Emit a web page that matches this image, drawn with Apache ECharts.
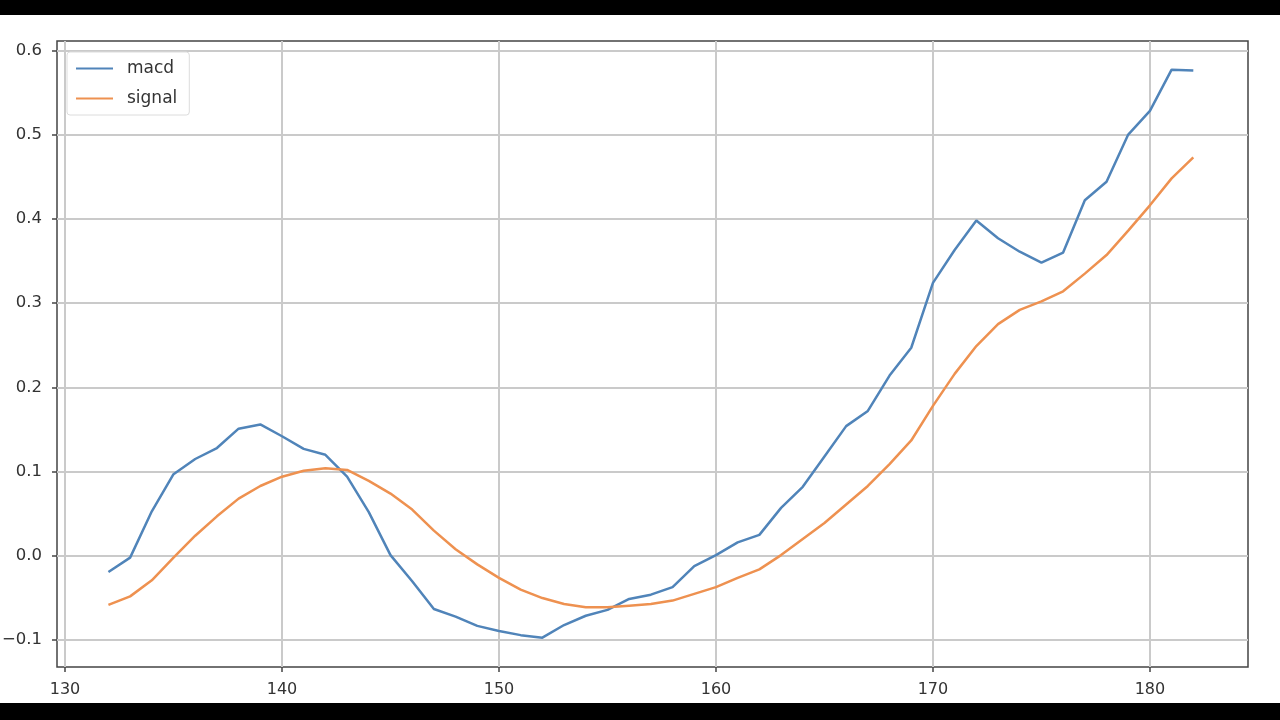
<!DOCTYPE html>
<html>
<head>
<meta charset="utf-8">
<script src="https://cdn.jsdelivr.net/npm/echarts@6/dist/echarts.min.js"></script>
<style>
  html, body { margin: 0; padding: 0; background: #000; }
  #chart { width: 1280px; height: 720px; }
</style>
</head>
<body>
<div id="chart"></div>
<script>
// x positions (bar index)
const xValues = [132, 133, 134, 135, 136, 137, 138, 139, 140, 141, 142, 143, 144, 145, 146, 147, 148, 149, 150, 151,
  152, 153, 154, 155, 156, 157, 158, 159, 160, 161, 162, 163, 164, 165, 166, 167, 168, 169, 170, 171,
  172, 173, 174, 175, 176, 177, 178, 179, 180, 181, 182]

const macd = [-0.019, -0.002, 0.053, 0.097, 0.115, 0.128, 0.151, 0.156, 0.142, 0.127, 0.120, 0.094, 0.052, 0.001, -0.030, -0.063, -0.072, -0.083, -0.089, -0.094,
  -0.097, -0.082, -0.071, -0.064, -0.051, -0.046, -0.037, -0.012, 0.001, 0.016, 0.025, 0.057, 0.082, 0.118, 0.154, 0.172, 0.214, 0.247, 0.324, 0.363,
  0.398, 0.377, 0.361, 0.348, 0.360, 0.422, 0.444, 0.500, 0.528, 0.577, 0.576]

const signal = [-0.058, -0.048, -0.029, -0.002, 0.024, 0.047, 0.068, 0.083, 0.094, 0.101, 0.104, 0.102, 0.089, 0.074, 0.055, 0.030, 0.008, -0.010, -0.026, -0.040,
  -0.050, -0.057, -0.061, -0.061, -0.059, -0.057, -0.053, -0.045, -0.037, -0.026, -0.016, 0.001, 0.020, 0.039, 0.061, 0.083, 0.109, 0.137, 0.178, 0.216,
  0.249, 0.275, 0.292, 0.302, 0.314, 0.335, 0.357, 0.386, 0.416, 0.448, 0.473]

const xTicks = [130, 140, 150, 160, 170, 180]
const yTicks = [-0.1, 0, 0.1, 0.2, 0.3, 0.4, 0.5, 0.6]

const chart = echarts.init(document.getElementById('chart'))

const font = 'DejaVu Sans'
const gridLine = { show: true, lineStyle: { color: '#cacaca', width: 2 } }

function toPairs(ys) {
  return xValues.map((x, i) => [x, ys[i]])
}

chart.setOption({
  backgroundColor: '#000',
  animation: false,
  textStyle: { fontFamily: font },
  graphic: [
    // white canvas between the black video bars
    { type: 'rect', z: -10, shape: { x: 0, y: 15, width: 1280, height: 688 }, style: { fill: '#fff' } }
  ],
  grid: {
    left: 57,
    right: 32,
    top: 41,
    bottom: 53,
    outerBoundsMode: 'none',
    show: true,
    backgroundColor: '#fff',
    borderColor: '#444',
    borderWidth: 1.5
  },
  legend: {
    orient: 'vertical',
    left: 67,
    top: 52,
    padding: [7, 12, 7, 9],
    icon: 'rect',
    itemWidth: 37,
    itemHeight: 2,
    itemGap: 11,
    backgroundColor: '#fff',
    borderColor: '#dcdcdc',
    borderWidth: 1,
    borderRadius: 3,
    textStyle: { fontSize: 17, color: '#333', padding: [0, 0, 0, 9], lineHeight: 19, fontFamily: font },
    data: ['macd', 'signal']
  },
  xAxis: {
    type: 'value',
    min: 129.63,
    max: 184.52,
    axisLine: { show: false, onZero: false },
    axisTick: { show: true, length: 5, lineStyle: { color: '#444', width: 1.5 }, customValues: xTicks },
    axisLabel: { fontSize: 16, color: '#333', margin: 15, customValues: xTicks, formatter: v => String(v) },
    splitLine: gridLine
  },
  yAxis: {
    type: 'value',
    min: -0.1318,
    max: 0.611,
    axisLine: { show: false, onZero: false },
    axisTick: { show: true, length: 5, lineStyle: { color: '#444', width: 1.5 }, customValues: yTicks },
    axisLabel: {
      fontSize: 16.5, color: '#333', margin: 15, customValues: yTicks,
      formatter: v => v.toFixed(1).replace('-', '\u2212')
    },
    splitLine: gridLine
  },
  series: [
    {
      name: 'macd',
      type: 'line',
      data: toPairs(macd),
      symbol: 'none',
      showSymbol: false,
      lineStyle: { color: '#5084b9', width: 2.5 },
      itemStyle: { color: '#5084b9' }
    },
    {
      name: 'signal',
      type: 'line',
      data: toPairs(signal),
      symbol: 'none',
      showSymbol: false,
      lineStyle: { color: '#ee9150', width: 2.5 },
      itemStyle: { color: '#ee9150' }
    }
  ]
})
</script>
</body>
</html>
